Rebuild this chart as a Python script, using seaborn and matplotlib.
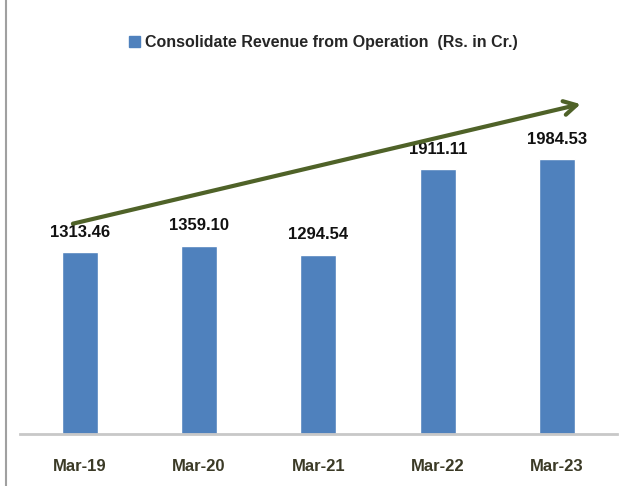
import pandas as pd
import numpy as np
import seaborn as sns
import matplotlib.pyplot as plt
from matplotlib.lines import Line2D

years = ["Mar-19", "Mar-20", "Mar-21", "Mar-22", "Mar-23"]
revenue = [1313.46, 1359.10, 1294.54, 1911.11, 1984.53]
label_text = ["1313.46", "1359.10", "1294.54", "1911.11", "1984.53"]
series_name = "Consolidate Revenue from Operation  (Rs. in Cr.)"

df = pd.DataFrame({"Year": years, "Revenue": revenue})

sns.set_style("white")
plt.rcParams["font.family"] = ["Liberation Sans Narrow", "Liberation Sans", "DejaVu Sans"]

fig = plt.figure(figsize=(6.28, 4.86), dpi=100)
ax = fig.add_axes([0.032, 0.107, 0.95, 0.712])

sns.barplot(data=df, x="Year", y="Revenue", color="#4f81bd", width=0.3,
            saturation=1, ax=ax, label=series_name)
ax.bar_label(ax.containers[0], labels=label_text, padding=9,
             fontsize=12, fontweight="bold", color="#111111")

# trend arrow
ax.annotate("", xy=(4.22, 2388), xytext=(-0.08, 1515),
            arrowprops=dict(arrowstyle="->,head_length=0.9,head_width=0.5",
                            color="#4f6228", lw=3))

ax.set_xlim(-0.5, 4.5)
ax.set_ylim(0, 2500)
ax.set_xlabel("")
ax.set_ylabel("")
ax.set_yticks([])
ax.tick_params(axis="x", length=0, pad=18)
for t in ax.get_xticklabels():
    t.set_fontsize(12)
    t.set_fontweight("bold")
    t.set_color("#3b3a26")
for s in ["top", "right", "left"]:
    ax.spines[s].set_visible(False)
ax.spines["bottom"].set_color("#c8c8c8")
ax.spines["bottom"].set_linewidth(2)

ax.legend().remove()
fig.legend(handles=[plt.Rectangle((0, 0), 1, 1, color="#4f81bd")],
           labels=[series_name], loc="center", bbox_to_anchor=(0.515, 0.913),
           frameon=False, handlelength=0.7, handleheight=0.7, handletextpad=0.3,
           prop={"size": 11.5, "weight": "bold"})

# left border line
fig.add_artist(Line2D([0.009, 0.009], [0, 1], color="#a0a0a0", lw=1.5,
                      transform=fig.transFigure))

plt.savefig("out.png", dpi=100)
